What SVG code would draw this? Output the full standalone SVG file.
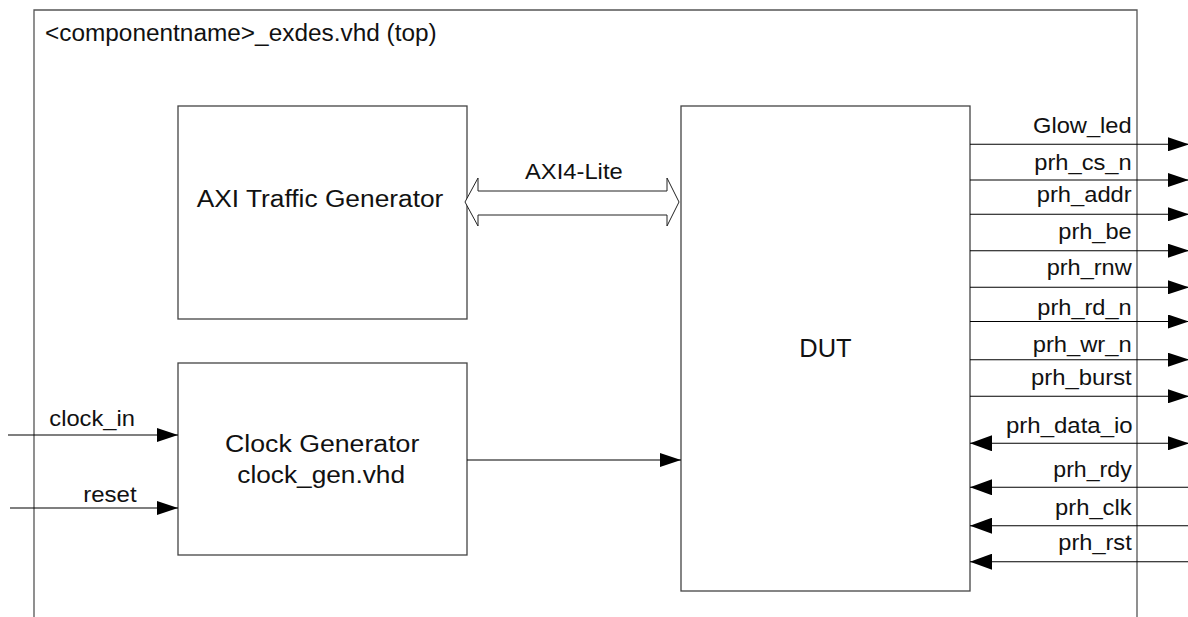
<svg xmlns="http://www.w3.org/2000/svg" width="1188" height="617" viewBox="0 0 1188 617">
  <style>
    .frame { fill: none; stroke: #555; stroke-width: 1.3; }
    .box { fill: #fff; stroke: #444; stroke-width: 1.3; }
    .wire { fill: none; stroke: #000; stroke-width: 1.1; }
    .bus { fill: #fff; stroke: #222; stroke-width: 1; }
    text { font-family: "Liberation Sans", Arial, sans-serif; fill: #111; }
    .lbl { font-size: 23.5px; }
    .sig { font-size: 22.5px; }
  </style>
  <defs>
    <marker id="arr" markerUnits="userSpaceOnUse" markerWidth="21" markerHeight="14" refX="21" refY="7" orient="auto-start-reverse">
      <path d="M0,0 L21,7 L0,14 Z" fill="#000"/>
    </marker>
    <marker id="arrIn" markerUnits="userSpaceOnUse" markerWidth="22" markerHeight="16" refX="22" refY="8" orient="auto-start-reverse">
      <path d="M0,0 L22,8 L0,16 Z" fill="#000"/>
    </marker>
  </defs>

  <!-- top-level wrapper -->
  <g id="top">
    <path class="frame" d="M34,617 V10 H1137 V617"/>
    <text x="45" y="41" font-size="23" textLength="391.7" lengthAdjust="spacingAndGlyphs">&lt;componentname&gt;_exdes.vhd (top)</text>
  </g>

  <g id="axi_tg">
    <rect class="box" x="178" y="106" width="289" height="213"/>
    <text class="lbl" x="196.7" y="206.7" textLength="246.7" lengthAdjust="spacingAndGlyphs">AXI Traffic Generator</text>
  </g>

  <g id="clock_gen">
    <rect class="box" x="178" y="363" width="289" height="192"/>
    <text class="lbl" x="225" y="451.7" textLength="194.3" lengthAdjust="spacingAndGlyphs">Clock Generator</text>
    <text class="lbl" x="237.3" y="483.3" textLength="167.7" lengthAdjust="spacingAndGlyphs">clock_gen.vhd</text>
  </g>

  <g id="dut">
    <rect class="box" x="681" y="106" width="289" height="485"/>
    <text x="799.3" y="356.7" font-size="26" textLength="52.3" lengthAdjust="spacingAndGlyphs">DUT</text>
  </g>

  <g id="connectors">
    <!-- AXI4-Lite bus -->
    <polygon class="bus" points="465,202 478,178 478,191 667,191 667,178 679,202 667,226 667,215 478,215 478,226"/>
    <text x="525" y="179.3" font-size="21.5" textLength="97.7" lengthAdjust="spacingAndGlyphs">AXI4-Lite</text>

    <!-- clock / reset inputs -->
    <line class="wire" x1="8" y1="435" x2="178" y2="435" marker-end="url(#arr)"/>
    <text class="sig" x="49.3" y="426" textLength="85.7" lengthAdjust="spacingAndGlyphs">clock_in</text>
    <line class="wire" x1="10" y1="508" x2="178" y2="508" marker-end="url(#arr)"/>
    <text class="sig" x="83.3" y="501.7" textLength="53.3" lengthAdjust="spacingAndGlyphs">reset</text>

    <!-- generated clock into DUT -->
    <line class="wire" x1="467" y1="460" x2="681" y2="460" marker-end="url(#arr)"/>

    <!-- DUT outputs -->
    <line class="wire" x1="970" y1="144.3" x2="1189" y2="144.3" marker-end="url(#arr)"/>
    <text class="sig" x="1033" y="132.5" textLength="98.7" lengthAdjust="spacingAndGlyphs">Glow_led</text>
    <line class="wire" x1="970" y1="180" x2="1189" y2="180" marker-end="url(#arr)"/>
    <text class="sig" x="1034.3" y="170" textLength="97.4" lengthAdjust="spacingAndGlyphs">prh_cs_n</text>
    <line class="wire" x1="970" y1="214.3" x2="1189" y2="214.3" marker-end="url(#arr)"/>
    <text class="sig" x="1036.7" y="202" textLength="95" lengthAdjust="spacingAndGlyphs">prh_addr</text>
    <line class="wire" x1="970" y1="250.7" x2="1189" y2="250.7" marker-end="url(#arr)"/>
    <text class="sig" x="1058.3" y="238.5" textLength="73.4" lengthAdjust="spacingAndGlyphs">prh_be</text>
    <line class="wire" x1="970" y1="287.3" x2="1189" y2="287.3" marker-end="url(#arr)"/>
    <text class="sig" x="1046.7" y="275" textLength="85" lengthAdjust="spacingAndGlyphs">prh_rnw</text>
    <line class="wire" x1="970" y1="321.5" x2="1189" y2="321.5" marker-end="url(#arr)"/>
    <text class="sig" x="1037.3" y="315" textLength="94.4" lengthAdjust="spacingAndGlyphs">prh_rd_n</text>
    <line class="wire" x1="970" y1="359.7" x2="1189" y2="359.7" marker-end="url(#arr)"/>
    <text class="sig" x="1032.7" y="351.7" textLength="99" lengthAdjust="spacingAndGlyphs">prh_wr_n</text>
    <line class="wire" x1="970" y1="396.3" x2="1189" y2="396.3" marker-end="url(#arr)"/>
    <text class="sig" x="1031" y="385" textLength="100.7" lengthAdjust="spacingAndGlyphs">prh_burst</text>

    <!-- bidirectional data -->
    <line class="wire" x1="970" y1="443.3" x2="1189" y2="443.3" marker-start="url(#arrIn)" marker-end="url(#arr)"/>
    <text class="sig" x="1006" y="433.3" textLength="126.7" lengthAdjust="spacingAndGlyphs">prh_data_io</text>

    <!-- DUT inputs -->
    <line class="wire" x1="1188" y1="487.3" x2="970" y2="487.3" marker-end="url(#arrIn)"/>
    <text class="sig" x="1053.3" y="476.5" textLength="78.4" lengthAdjust="spacingAndGlyphs">prh_rdy</text>
    <line class="wire" x1="1188" y1="525.7" x2="970" y2="525.7" marker-end="url(#arrIn)"/>
    <text class="sig" x="1055" y="515" textLength="76.7" lengthAdjust="spacingAndGlyphs">prh_clk</text>
    <line class="wire" x1="1188" y1="561.7" x2="970" y2="561.7" marker-end="url(#arrIn)"/>
    <text class="sig" x="1058.3" y="550" textLength="73.4" lengthAdjust="spacingAndGlyphs">prh_rst</text>
  </g>
</svg>
